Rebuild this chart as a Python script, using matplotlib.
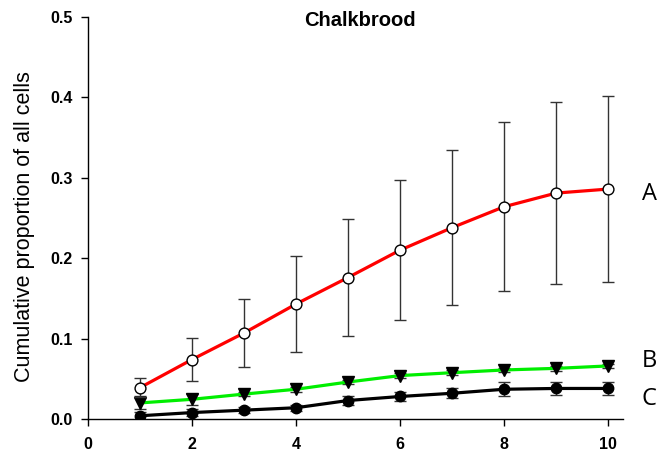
import numpy as np
import matplotlib.pyplot as plt

plt.rcParams['font.family'] = ['Liberation Sans', 'DejaVu Sans']

# time points and cumulative proportions (mean +/- error) per group
weeks = [1, 2, 3, 4, 5, 6, 7, 8, 9, 10]

group_a = [0.039, 0.074, 0.107, 0.143, 0.176, 0.210, 0.238, 0.264, 0.281, 0.286]
err_a = [0.012, 0.027, 0.042, 0.060, 0.073, 0.087, 0.096, 0.105, 0.113, 0.116]

group_b = [0.020, 0.0245, 0.031, 0.037, 0.046, 0.054, 0.0576, 0.061, 0.063, 0.066]
err_b = [0.008, 0.0065, 0.003, 0.003, 0.003, 0.003, 0.003, 0.003, 0.003, 0.003]

group_c = [0.004, 0.008, 0.011, 0.014, 0.023, 0.028, 0.032, 0.037, 0.038, 0.038]
err_c = [0.005, 0.004, 0.004, 0.004, 0.005, 0.005, 0.006, 0.0085, 0.008, 0.008]

x_ticks = [0, 2, 4, 6, 8, 10]
y_ticks = [0.0, 0.1, 0.2, 0.3, 0.4, 0.5]

fig = plt.figure(figsize=(6.58, 4.55), dpi=100)
ax = fig.add_axes([0.1337, 0.0791, 0.8133, 0.8835])

eb = dict(ecolor='#333333', elinewidth=1.0, capsize=4, capthick=1.0)

ax.errorbar(weeks, group_c, yerr=err_c, color='black', lw=2.3,
            marker='o', ms=7.5, mfc='black', mec='black', zorder=3, **eb)
ax.errorbar(weeks, group_b, yerr=err_b, color='#00ee00', lw=2.3,
            marker='v', ms=8, mfc='black', mec='black', zorder=4, **eb)
ax.errorbar(weeks, group_a, yerr=err_a, color='red', lw=2.3,
            marker='o', ms=7.8, mfc='white', mec='black', mew=1.0, zorder=5, **eb)

ax.set_xlim(0, 10.29)
ax.set_ylim(0, 0.5)
ax.set_xticks(x_ticks)
ax.set_yticks(y_ticks)
ax.set_xticklabels([str(t) for t in x_ticks], fontweight='bold', fontsize=11.5)
ax.set_yticklabels(['%.1f' % t for t in y_ticks], fontweight='bold', fontsize=11.5)
ax.tick_params(direction='out', length=5, width=1)
ax.tick_params(axis='x', pad=8)
ax.tick_params(axis='y', pad=6)

for side in ['top', 'right']:
    ax.spines[side].set_visible(False)
for side in ['left', 'bottom']:
    ax.spines[side].set_linewidth(1.0)

ax.set_ylabel('Cumulative proportion of all cells', fontsize=15.5)
ax.yaxis.set_label_coords(-0.099, 0.478)
ax.text(0.508, 0.9925, 'Chalkbrood', transform=ax.transAxes, ha='center', va='center',
        fontsize=14.5, fontweight='bold')

# group labels to the right of the last point
for name, yv in [('A', 0.280), ('B', 0.072), ('C', 0.025)]:
    ax.text(10.79, yv, name, ha='center', va='center', fontsize=17,
            family='Open Sans', clip_on=False)

fig.savefig('out.png', dpi=100)
